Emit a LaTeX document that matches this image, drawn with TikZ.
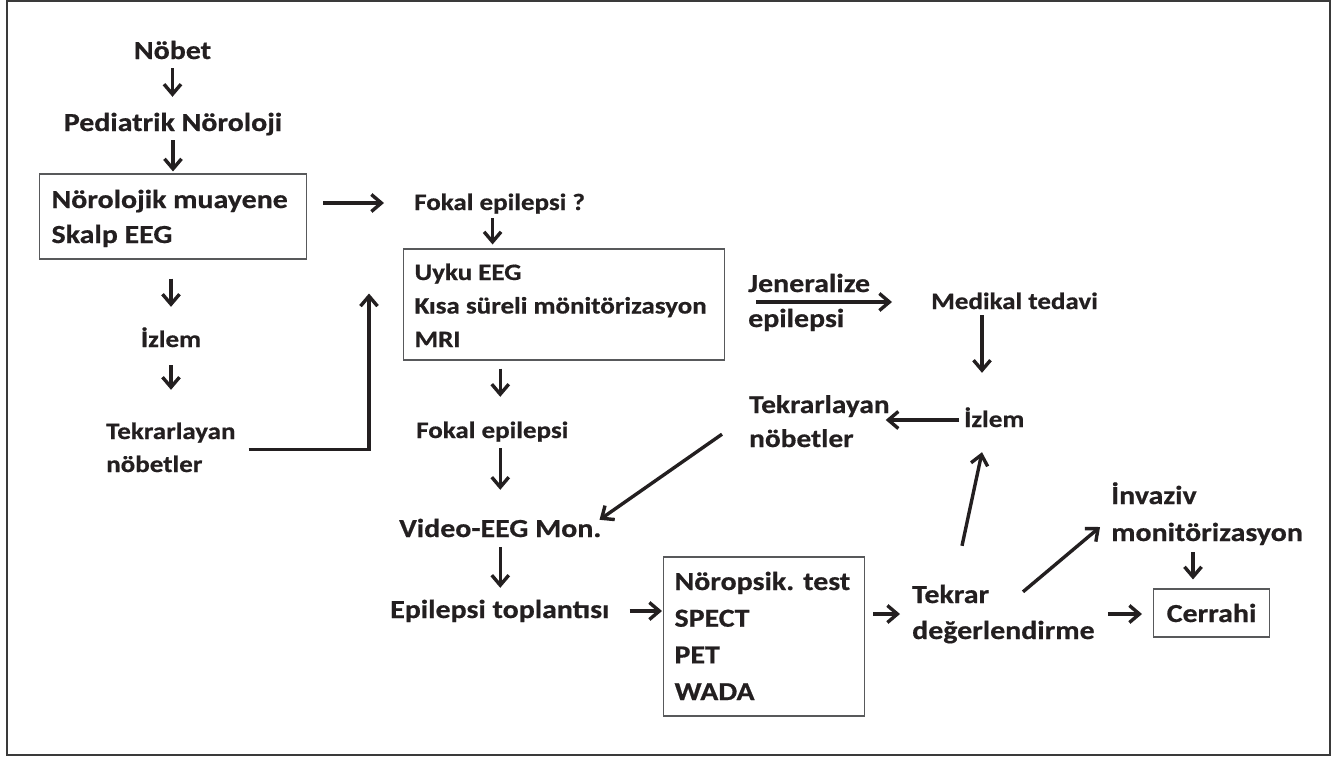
\documentclass[tikz,border=0pt]{standalone}
\usepackage{fontspec}
\setmainfont{Carlito}[FakeStretch=1.15,FakeBold=0.6]
\usetikzlibrary{arrows.meta,calc}
\definecolor{ink}{HTML}{231F20}
\definecolor{boxc}{HTML}{58595B}
\definecolor{framec}{HTML}{3A3A3A}
\newcommand{\Lg}{\fontsize{26}{35}\selectfont\bfseries}
\newcommand{\Sm}{\fontsize{23.5}{33.5}\selectfont\bfseries}
\newcommand{\mylines}[1]{\begin{tabular}[t]{@{}l@{}}#1\end{tabular}}
\tikzset{
  lbl/.style={inner sep=0pt, text height=14pt, text depth=0pt, text=ink, anchor=base west},
  arr/.style={draw=ink, line width=3.4pt, -{Straight Barb[length=10pt,width=17pt]}},
  bx/.style={draw=boxc, line width=1.1pt, inner ysep=0pt, text=ink, anchor=base west},
}
\begin{document}
\begin{tikzpicture}[x=1pt,y=-1pt]
\useasboundingbox (0,0) rectangle (1334,756);
\fill[white] (0,0) rectangle (1334,756);
\draw[line width=2pt, draw=framec] (7,1) rectangle (1330,755);

% boxes
\node[bx, inner xsep=12pt, text height=34pt, text depth=51pt, font=\Lg] (b1) at (39,208)
  {\makebox[243pt][l]{\mylines{Nörolojik muayene\\Skalp EEG}}};
\node[bx, inner xsep=11pt, text height=31pt, text depth=80pt, font=\Sm] (b2) at (403,280)
  {\makebox[299pt][l]{\mylines{Uyku EEG\\Kısa süreli mönitörizasyon\\MRI}}};
\node[bx, inner xsep=11pt, text height=33pt, text depth=126pt, font={\fontsize{26}{36.7}\selectfont\bfseries}] (b3) at (663,590)
  {\makebox[179pt][l]{\mylines{Nöropsik. test\\SPECT\\PET\\WADA}}};
\node[bx, inner xsep=0pt, text height=33pt, text depth=15pt, font=\Lg] (cer) at (1153,622)
  {\makebox[116pt][c]{Cerrahi}};

% labels
\node[lbl, anchor=base, font=\Lg] (nobet) at (172.5,59) {Nöbet};
\node[lbl, anchor=base, font=\Lg] (ped) at (173,131) {Pediatrik Nöroloji};
\node[lbl, font=\Sm] (fok1) at (414,210) {Fokal epilepsi ?};
\node[lbl, anchor=base, font=\Sm] (izl1) at (171,347) {İzlem};
\node[lbl, text depth=35pt, font={\fontsize{23.5}{33}\selectfont\bfseries}] (tek1) at (106,439) {\mylines{Tekrarlayan\\nöbetler}};
\node[lbl, font=\Lg] (jen) at (748,292) {\mylines{Jeneralize\\epilepsi}};
\node[lbl, font=\Sm] (med) at (931,309) {Medikal tedavi};
\node[lbl, font=\Sm] (fok2) at (416,438) {Fokal epilepsi};
\node[lbl, text depth=30pt, font={\fontsize{25.5}{34}\selectfont\bfseries}] (tek3) at (749,413) {\mylines{Tekrarlayan\\nöbetler}};
\node[lbl, font=\Sm] (izl2) at (964,427) {İzlem};
\node[lbl, font=\Lg] (vid) at (399,537) {Video-EEG Mon.};
\node[lbl, font=\Lg] (ept) at (390,618) {Epilepsi toplantısı};
\node[lbl, text depth=36pt, font={\fontsize{26}{36}\selectfont\bfseries}] (tek2) at (912,603) {\mylines{Tekrar\\değerlendirme}};
\node[lbl, text depth=42pt, font={\fontsize{26}{37}\selectfont\bfseries}] (inv) at (1111,504) {\mylines{İnvaziv\\monitörizasyon}};

% connectors
\draw[arr, shorten <=9pt, shorten >=20pt] (nobet.south) -- (nobet.south |- ped.north);
\draw[arr, shorten <=9pt, shorten >=2pt] (ped.south) -- (ped.south |- b1.north);
\draw[arr, shorten <=19pt, shorten >=26pt] (b1.south -| izl1.north) -- (izl1.north);
\draw[arr, shorten <=18pt, shorten >=35pt] (izl1.south) -- (izl1.south |- tek1.north);
\draw[arr] ($(tek1.east)+(13,0)$) -| ($(b2.west)+(-34,-11)$);
\draw[arr, shorten <=16pt, shorten >=30pt] (b1.east |- fok1.west) -- (fok1.west);
\draw[arr, shorten <=8pt, shorten >=4pt] ([xshift=-7pt]fok1.south) -- ([xshift=-7pt]fok1.south |- b2.north);
\draw[arr, shorten <=8pt, shorten >=27pt] (b2.south -| vid.north) -- (fok2.north -| vid.north);
\draw[arr, shorten <=10pt, shorten >=33pt] (fok2.south -| vid.north) -- (vid.north);
\draw[arr, shorten <=10pt, shorten >=16pt] (vid.south) -- (vid.south |- ept.north);
\draw[arr, shorten <=20pt, shorten >=1pt] (ept.east) -- (ept.east -| b3.west);
\draw[arr, shorten <=8pt, shorten >=12pt] (b3.east |- tek2.west) -- (tek2.west);
\draw[arr, shorten <=13pt, shorten >=11pt] (tek2.east) -- (tek2.east -| cer.west);
\draw[arr] ($(tek2.north west)+(111,3)$) -- ($(inv.west)+(-11,9)$);
\draw[arr] ($(inv.south west)+(82,6)$) -- ($(cer.north west)+(40,-9)$);
\draw[arr] ($(tek2.north west)+(50,-43)$) -- ($(izl2.south west)+(18,25)$);
\draw[arr, shorten <=5pt, shorten >=-4pt] (izl2.west) -- (izl2.west -| tek3.east);
\draw[arr, shorten <=6pt] ($(med.south west)+(51,0)$) -- ($(izl2.north west)+(18,-40)$);
\draw[arr, shorten <=31pt, shorten >=39pt] (b2.east |- med.west) -- (med.west);
\draw[arr] ($(tek3.south west)+(-27,-9)$) -- ($(vid.north east)+(-2,-3)$);
\end{tikzpicture}
\end{document}
